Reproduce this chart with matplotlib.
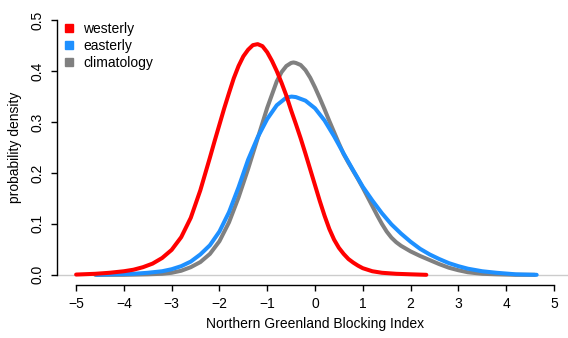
import matplotlib
matplotlib.use("Agg")
import matplotlib.pyplot as plt
from matplotlib.lines import Line2D

plt.rcParams['font.family'] = ['Liberation Sans', 'DejaVu Sans']

# ---- data ----
west_x = [-5.00, -4.60, -4.30, -4.00, -3.80, -3.60, -3.40, -3.20, -3.00, -2.80,
          -2.60, -2.40, -2.20, -2.10, -2.00, -1.90, -1.80, -1.70, -1.60, -1.50,
          -1.40, -1.30, -1.20, -1.10,
          -1.00, -0.90, -0.80, -0.70, -0.60, -0.50, -0.40, -0.30, -0.20, -0.10,
          0.00, 0.10, 0.20, 0.30, 0.40, 0.50, 0.60, 0.70, 0.80, 0.90,
          1.00, 1.20, 1.40, 1.70, 2.00, 2.33]
west_y = [0.0005, 0.002, 0.004, 0.007, 0.010, 0.015, 0.022, 0.033, 0.049, 0.074,
          0.112, 0.166, 0.230, 0.263, 0.295, 0.327, 0.357, 0.386, 0.410, 0.429,
          0.442, 0.451, 0.453, 0.449,
          0.437, 0.420, 0.400, 0.377, 0.352, 0.323, 0.296, 0.268, 0.238, 0.207,
          0.176, 0.145, 0.116, 0.090, 0.069, 0.053, 0.041, 0.031, 0.024, 0.018,
          0.013, 0.007, 0.004, 0.002, 0.001, 0.000]

east_x = [-4.57, -4.20, -3.80, -3.50, -3.20, -3.00, -2.80, -2.60, -2.40, -2.20,
          -2.00, -1.80, -1.60, -1.40, -1.20, -1.00, -0.80, -0.60, -0.49, -0.40,
          -0.20, 0.00, 0.20, 0.40, 0.60, 0.80, 1.00, 1.20, 1.40, 1.60,
          1.80, 2.00, 2.20, 2.40, 2.60, 2.80, 3.00, 3.20, 3.50, 3.80, 4.20, 4.64]
east_y = [0.000, 0.001, 0.002, 0.004, 0.007, 0.011, 0.017, 0.026, 0.040, 0.058,
          0.085, 0.123, 0.172, 0.226, 0.270, 0.306, 0.333, 0.348, 0.350, 0.349,
          0.342, 0.327, 0.303, 0.272, 0.238, 0.205, 0.173, 0.146, 0.121, 0.099,
          0.081, 0.065, 0.051, 0.040, 0.031, 0.023, 0.017, 0.012, 0.007, 0.004, 0.001, 0.000]

clim_x = [-4.60, -4.00, -3.50, -3.20, -3.00, -2.80, -2.60, -2.40, -2.20, -2.00,
          -1.80, -1.60, -1.40, -1.20, -1.00, -0.80, -0.70, -0.60, -0.50, -0.45,
          -0.40, -0.30, -0.20, -0.10, 0.00, 0.10, 0.20, 0.30, 0.40, 0.50,
          0.60, 0.70, 0.80, 0.90, 1.00, 1.10, 1.20, 1.30, 1.40, 1.50,
          1.60, 1.70, 1.80, 2.00, 2.20, 2.40, 2.60, 2.80, 3.00, 3.20,
          3.50, 3.80, 4.20, 4.60]
clim_y = [0.000, 0.000, 0.001, 0.002, 0.004, 0.008, 0.015, 0.025, 0.041, 0.066,
          0.103, 0.152, 0.208, 0.268, 0.328, 0.380, 0.398, 0.410, 0.416, 0.417,
          0.416, 0.412, 0.402, 0.387, 0.368, 0.347, 0.325, 0.302, 0.280, 0.258,
          0.237, 0.220, 0.204, 0.188, 0.171, 0.153, 0.135, 0.117, 0.100, 0.085,
          0.073, 0.064, 0.057, 0.046, 0.037, 0.029, 0.021, 0.014, 0.009, 0.005,
          0.002, 0.001, 0.000, 0.000]

labels = ["westerly", "easterly", "climatology"]
colors = ["#FF0000", "#1E90FF", "#808080"]
xticks = [-5, -4, -3, -2, -1, 0, 1, 2, 3, 4, 5]
yticks = [0.0, 0.1, 0.2, 0.3, 0.4, 0.5]
ytick_labels = ["0.0", "0.1", "0.2", "0.3", "0.4", "0.5"]

W, H = 568, 338
fig = plt.figure(figsize=(W / 100, H / 100), dpi=100)
ax = fig.add_axes([57 / W, (H - 285) / H, 516 / W, 275 / H])
ax.set_xlim(-5.4, 5.4)
ax.set_ylim(-0.02, 0.52)

ax.axhline(0, color="#cccccc", lw=1.0, zorder=1)
lw = 2.9
kw = dict(lw=lw, solid_capstyle='round', solid_joinstyle='round')
ax.plot(clim_x, clim_y, color=colors[2], zorder=2, **kw)
ax.plot(east_x, east_y, color=colors[1], zorder=3, **kw)
ax.plot(west_x, west_y, color=colors[0], zorder=4, **kw)

for s in ['top', 'right']:
    ax.spines[s].set_visible(False)
ax.spines['bottom'].set_bounds(-5, 5)
ax.spines['left'].set_bounds(0, 0.5)
ax.spines['bottom'].set_linewidth(1.0)
ax.spines['left'].set_linewidth(1.0)

ax.set_xticks(xticks)
ax.set_xticklabels([str(t).replace('-', '\u2212') for t in xticks])
ax.set_yticks(yticks)
ax.set_yticklabels(ytick_labels, rotation=90, va='center')
ax.tick_params(axis='both', direction='out', length=4, width=1.0, labelsize=10,
               colors='black')
ax.tick_params(axis='x', pad=5)
ax.tick_params(axis='y', pad=5)

ax.set_xlabel("Northern Greenland Blocking Index", fontsize=10, labelpad=4)
ax.set_ylabel("probability density", fontsize=10, labelpad=6)

handles = [Line2D([], [], marker='s', linestyle='none', color=c, markersize=5.5)
           for c in colors]
ax.legend(handles, labels, loc='upper left', bbox_to_anchor=(63.5 / W, 1 - 22 / H),
          bbox_transform=fig.transFigure, frameon=False, fontsize=10,
          borderpad=0, borderaxespad=0, handlelength=0.8, handletextpad=0.6,
          labelspacing=0.22)

fig.savefig("out.png", dpi=100)
